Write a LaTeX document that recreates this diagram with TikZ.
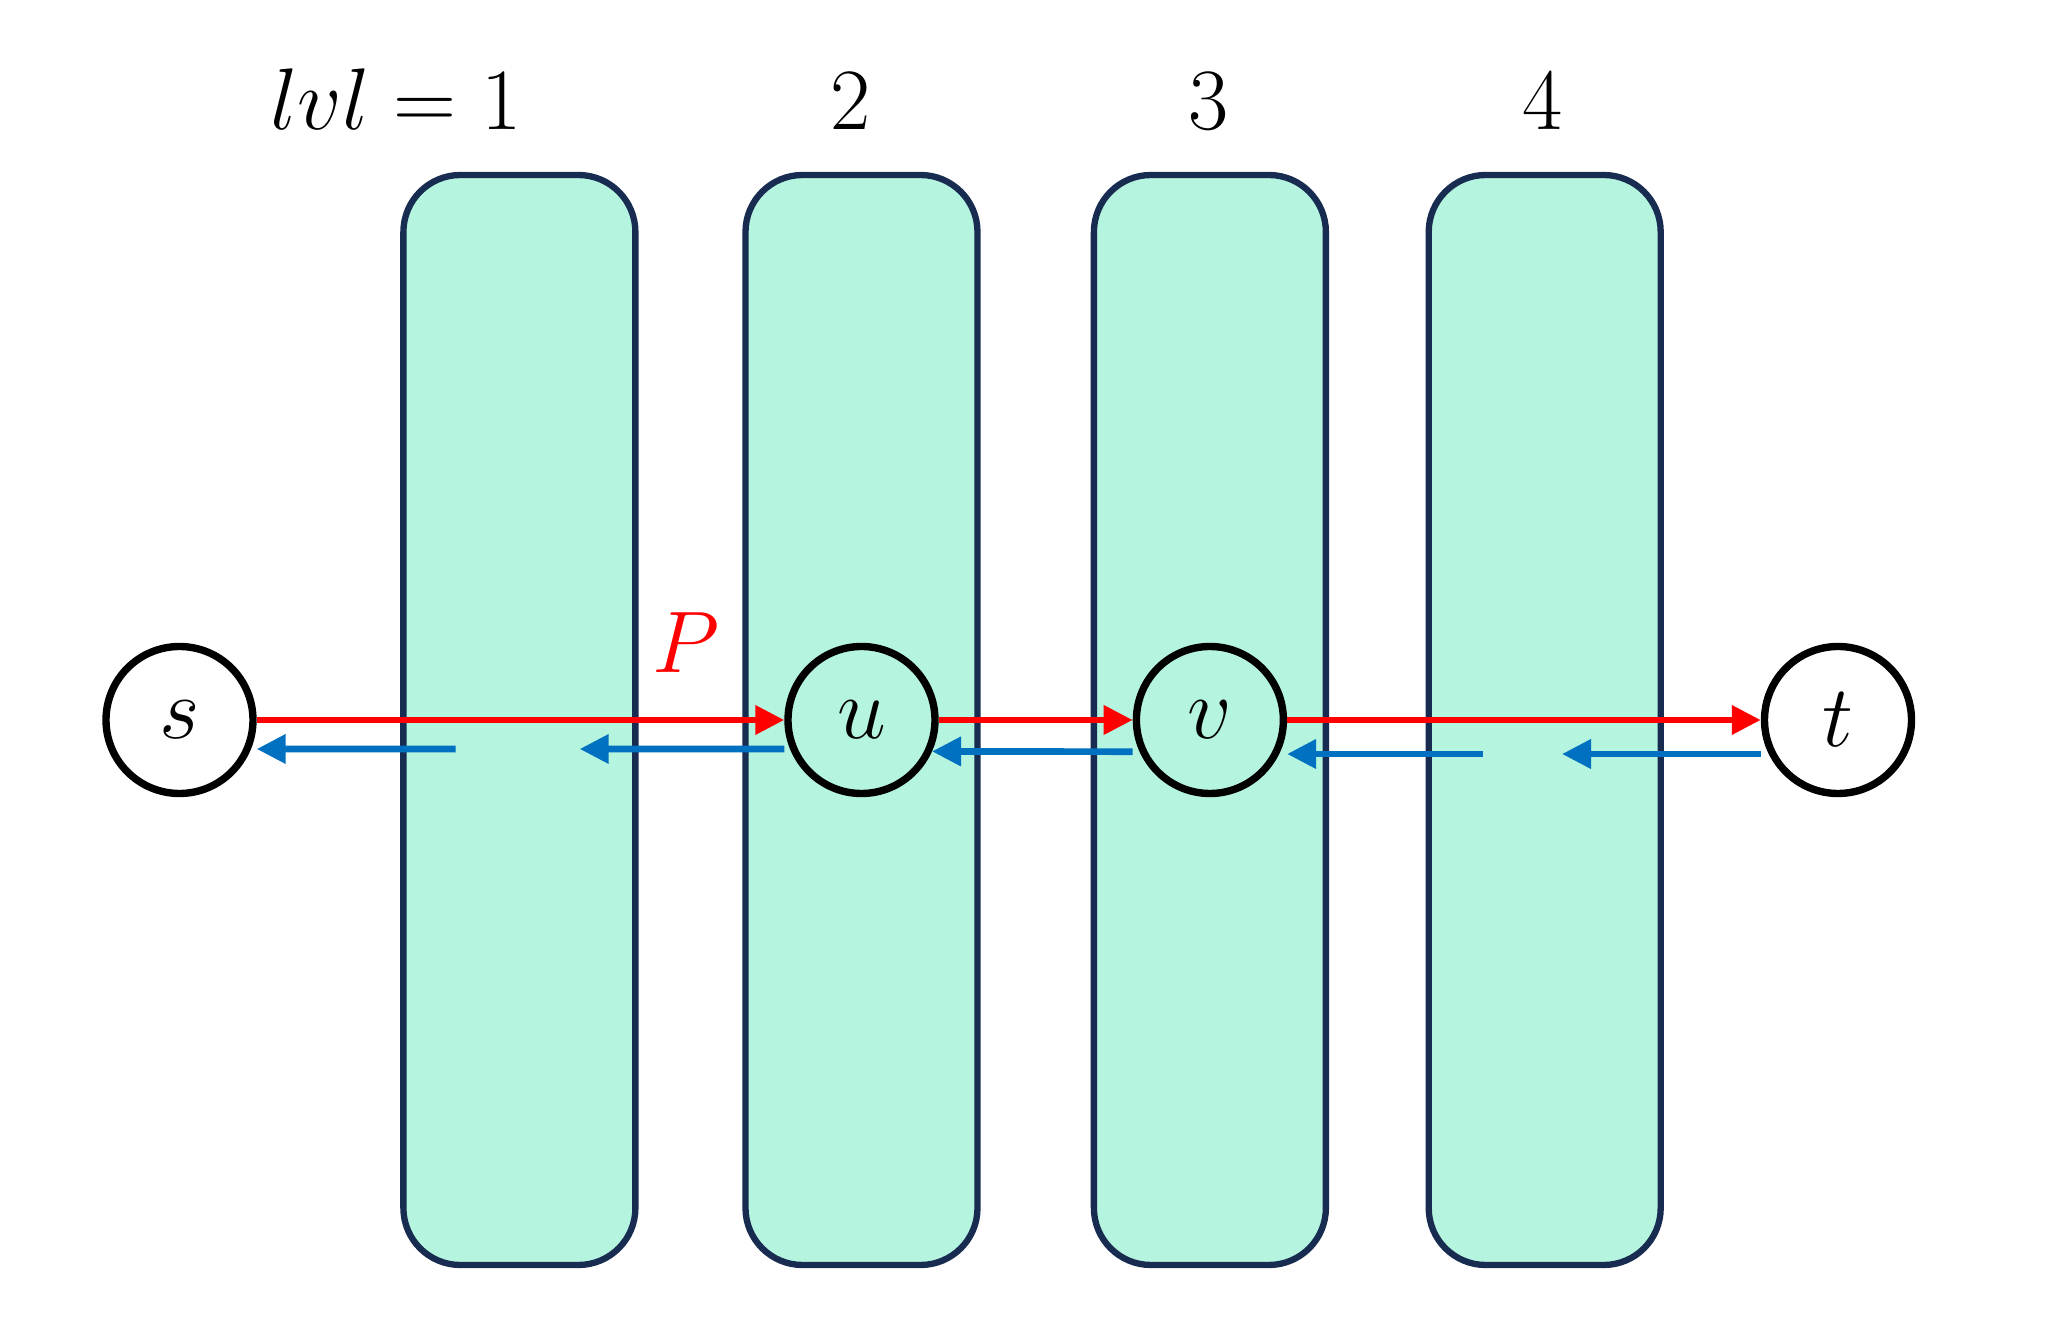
\documentclass[tikz,border=0pt]{standalone}
\usepackage{xcolor}
\definecolor{LevelFill}{RGB}{181, 244, 223}
\definecolor{LevelEdge}{RGB}{24, 43, 80}
\definecolor{PathRed}{RGB}{255, 0, 0}
\definecolor{BackBlue}{RGB}{0, 112, 192}
\usepackage{tikz}
\usetikzlibrary{arrows.meta, positioning}
\tikzset{
  lvlbar/.style={rectangle, rounded corners=5.7mm, draw=#1, fill=LevelFill,
                 line width=1.8pt, minimum width=2.32cm, minimum height=10.9cm,
                 inner sep=0pt},
  vtx/.style={circle, draw=black, line width=2.1pt, minimum size=1.47cm,
              inner sep=0pt, font=\Huge},
  lbl/.style={inner sep=0pt, anchor=base, font=\Huge, text=#1},
  arr/.style={-{Triangle[length=2.9mm, width=2.8mm]}, line width=1.9pt, color=#1},
}

\begin{document}
\begin{tikzpicture}
      \useasboundingbox (0,0) rectangle (20.57,-13.23);

      % levels
      \node[lvlbar=LevelEdge] (bar1) at (5.194,-7.20) {};
      \node[lvlbar=LevelEdge] (bar2) at (8.615,-7.20) {};
      \node[lvlbar=LevelEdge] (bar3) at (12.099,-7.20) {};
      \node[lvlbar=LevelEdge] (bar4) at (15.447,-7.20) {};

      \node[lbl=black, anchor=base east] (lvl1) at (5.22,-1.293) {$lvl = 1$};
      \node[lbl=black] (lvl2) at (8.504,-1.293) {$2$};
      \node[lbl=black] (lvl3) at (12.085,-1.293) {$3$};
      \node[lbl=black] (lvl4) at (15.43,-1.293) {$4$};

      % vertices
      \node[vtx, fill=white] (s) at (1.795,-7.20) {$s$};
      \node[vtx] (u) at (bar2) {$u$};
      \node[vtx] (v) at (bar3) {$v$};
      \node[vtx, fill=white] (t) at (18.38,-7.20) {$t$};

      \node[lbl=PathRed] (plbl) at (6.86,-6.73) {$P$};

      \coordinate (b1) at (4.557,-7.49);
      \coordinate (b2) at (5.797,-7.49);
      \coordinate (b3) at (14.83,-7.54);
      \coordinate (b4) at (15.62,-7.54);

      \draw[arr=PathRed] (s) -- (u);
      \draw[arr=PathRed] (u) -- (v);
      \draw[arr=PathRed] (v) -- (t);

      \draw[arr=BackBlue] (b1) -- ([yshift=-0.29cm]s.east);
      \draw[arr=BackBlue] ([yshift=-0.29cm]u.west) -- (b2);
      \draw[arr=BackBlue] ([yshift=-0.317cm]v.west) -- (u.-24);
      \draw[arr=BackBlue] (b3) -- ([yshift=-0.34cm]v.east);
      \draw[arr=BackBlue] ([yshift=-0.34cm]t.west) -- (b4);
    \end{tikzpicture}
\end{document}
